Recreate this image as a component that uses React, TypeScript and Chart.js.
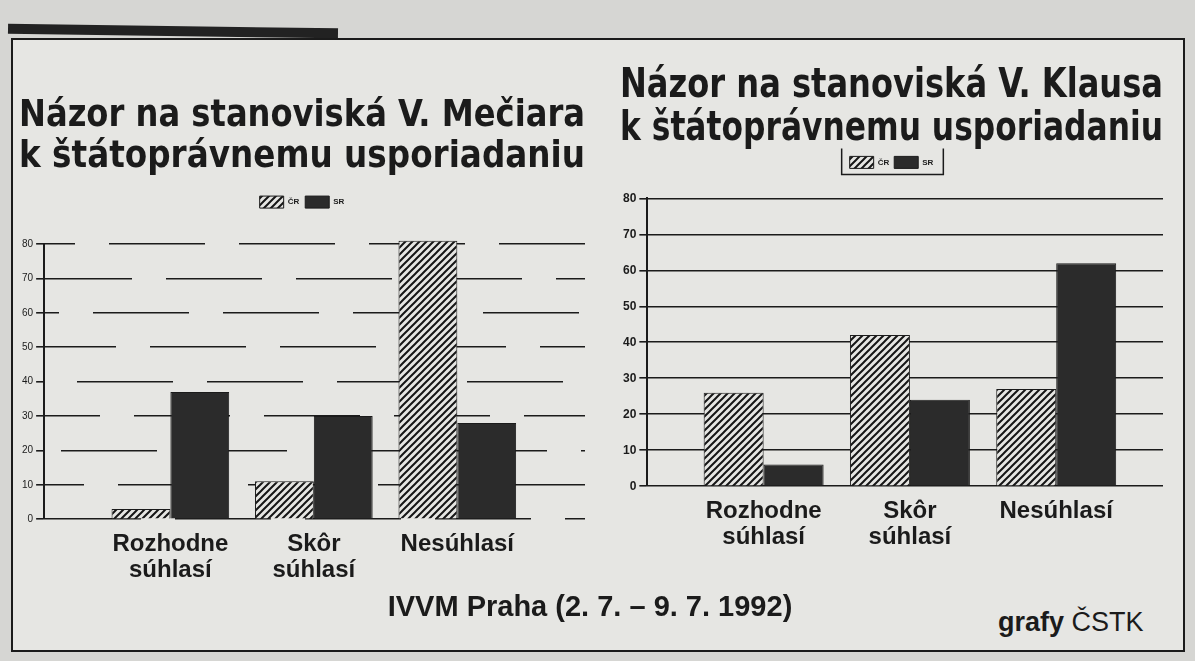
import React, { useEffect, useRef } from "react";
import { Chart, registerables } from "chart.js";

Chart.register(...registerables);

// ---------- data ----------
const categories: string[][] = [["Rozhodne", "súhlasí"], ["Skôr", "súhlasí"], ["Nesúhlasí"]];
const seriesLabels = ["ČR", "SR"];
const meciarCR = [3, 11, 81];
const meciarSR = [37, 30, 28];
const klausCR = [26, 42, 27];
const klausSR = [6, 24, 62];
const yTickValues = [0, 10, 20, 30, 40, 50, 60, 70, 80];
const meciarTitle = ["Názor na stanoviská V. Mečiara", "k štátoprávnemu usporiadaniu"];
const klausTitle = ["Názor na stanoviská V. Klausa", "k štátoprávnemu usporiadaniu"];
const sourceText = "IVVM Praha (2. 7. – 9. 7. 1992)";
const creditBold = "grafy";
const creditText = "ČSTK";

// ---------- style ----------
const INK = "#1b1b1b";
const BAR = "#2b2b2b";
const PAPER = "#e6e6e3";
const PAGE = "#d6d6d3";
const NARROW = "'Liberation Sans Narrow', 'DejaVu Sans Condensed', 'Arial Narrow', sans-serif";
const SANS = "'Liberation Sans', Arial, Helvetica, sans-serif";

function makeHatch(): CanvasPattern | string {
  const s = 7;
  const c = document.createElement("canvas");
  c.width = s;
  c.height = s;
  const g = c.getContext("2d");
  if (!g) return "#888";
  g.fillStyle = PAPER;
  g.fillRect(0, 0, s, s);
  g.strokeStyle = "#161616";
  g.lineWidth = 2;
  g.beginPath();
  g.moveTo(-1, s + 1);
  g.lineTo(s + 1, -1);
  g.moveTo(-1, 1);
  g.lineTo(1, -1);
  g.moveTo(s - 1, s + 1);
  g.lineTo(s + 1, s - 1);
  g.stroke();
  return g.createPattern(c, "repeat") || "#888";
}

interface PanelOpts {
  title: string[];
  titleSize: number;
  cr: number[];
  sr: number[];
  xMin: number;
  xMax: number;
  dashed: boolean;
  titlePad: { top: number; bottom: number };
  legendPad: number;
  legendGap: number;
  layoutPad: { left: number; right: number; top: number; bottom: number };
  legendFrame: boolean;
  yTickFont: { size: number; weight: string };
  xTickPad: number;
}

function buildConfig(o: PanelOpts): any {
  const hatch = makeHatch();
  const legendGapPlugin = {
    id: "legendGap",
    beforeInit(chart: any) {
      const lg = chart.legend;
      if (!lg) return;
      const fit = lg.fit;
      lg.fit = function () {
        fit.call(this);
        this.height += o.legendGap;
      };
    },
  };
  const legendFramePlugin = {
    id: "legendFrame",
    afterDraw(chart: any) {
      if (!o.legendFrame) return;
      const lg = chart.legend;
      if (!lg || !lg.legendHitBoxes || !lg.legendHitBoxes.length) return;
      const boxes = lg.legendHitBoxes;
      const x1 = Math.min(...boxes.map((b: any) => b.left)) - 8;
      const x2 = Math.max(...boxes.map((b: any) => b.left + b.width)) + 10;
      const y1 = boxes[0].top - 8;
      const y2 = boxes[0].top + boxes[0].height + 6;
      const ctx = chart.ctx;
      ctx.save();
      ctx.strokeStyle = INK;
      ctx.lineWidth = 1.5;
      ctx.beginPath();
      ctx.moveTo(x1, y1);
      ctx.lineTo(x1, y2);
      ctx.lineTo(x2, y2);
      ctx.lineTo(x2, y1);
      ctx.stroke();
      ctx.restore();
    },
  };

  return {
    type: "bar",
    data: {
      datasets: [
        {
          label: seriesLabels[0],
          data: o.cr.map((v, i) => ({ x: i, y: v })),
          backgroundColor: hatch,
          borderColor: INK,
          borderWidth: 1,
          clip: false,
        },
        {
          label: seriesLabels[1],
          data: o.sr.map((v, i) => ({ x: i, y: v })),
          backgroundColor: BAR,
          borderColor: INK,
          borderWidth: 1,
          clip: false,
        },
      ],
    },
    options: {
      responsive: false,
      animation: false,
      devicePixelRatio: 1,
      categoryPercentage: 0.82,
      barPercentage: 1,
      layout: { padding: o.layoutPad },
      plugins: {
        tooltip: { enabled: false },
        title: {
          display: true,
          text: o.title,
          color: INK,
          font: { family: NARROW, size: o.titleSize, weight: "bold", lineHeight: 1.08 },
          padding: o.titlePad,
        },
        legend: {
          display: true,
          position: "top",
          labels: {
            color: INK,
            boxWidth: 24,
            boxHeight: 12,
            padding: o.legendPad,
            font: { family: SANS, size: 8, weight: "bold" },
          },
        },
      },
      scales: {
        x: {
          type: "linear",
          min: o.xMin,
          max: o.xMax,
          offset: false,
          grid: { display: false, drawTicks: false },
          border: { display: false },
          afterBuildTicks: (axis: any) => {
            axis.ticks = categories.map((_, i) => ({ value: i }));
          },
          ticks: {
            autoSkip: false,
            maxRotation: 0,
            padding: o.xTickPad,
            color: INK,
            font: { family: SANS, size: 24, weight: "bold", lineHeight: 1.1 },
            callback: (v: any) => categories[Math.round(Number(v))] || "",
          },
        },
        y: {
          min: 0,
          max: 80,
          afterBuildTicks: (axis: any) => {
            axis.ticks = yTickValues.map((v) => ({ value: v }));
          },
          grid: { color: INK, lineWidth: 1.6, drawTicks: true, tickLength: 8 },
          border: {
            display: true,
            color: INK,
            width: 2,
            dash: o.dashed ? [96, 34] : [],
            dashOffset: (ctx: any) => (o.dashed ? ((ctx.index || 0) * 57) % 130 : 0),
          },
          ticks: {
            color: INK,
            padding: 3,
            font: { family: SANS, size: o.yTickFont.size, weight: o.yTickFont.weight },
          },
        },
      },
    },
    plugins: [legendGapPlugin, legendFramePlugin],
  };
}

function Panel(props: { opts: PanelOpts; width: number; height: number; style: React.CSSProperties }) {
  const ref = useRef<HTMLCanvasElement>(null);
  useEffect(() => {
    if (!ref.current) return;
    const chart = new Chart(ref.current, buildConfig(props.opts));
    return () => chart.destroy();
  }, []);
  return <canvas ref={ref} width={props.width} height={props.height} style={{ position: "absolute", ...props.style }} />;
}

const leftOpts: PanelOpts = {
  title: meciarTitle,
  titleSize: 38,
  cr: meciarCR,
  sr: meciarSR,
  xMin: -0.88,
  xMax: 2.89,
  dashed: true,
  titlePad: { top: 26, bottom: 12 },
  legendPad: 6,
  legendGap: 26,
  layoutPad: { left: 9, right: 17, top: 0, bottom: 4 },
  legendFrame: false,
  yTickFont: { size: 10, weight: "normal" },
  xTickPad: 12,
};

const rightOpts: PanelOpts = {
  title: klausTitle,
  titleSize: 40,
  cr: klausCR,
  sr: klausSR,
  xMin: -0.795,
  xMax: 2.73,
  dashed: false,
  titlePad: { top: 25, bottom: 0 },
  legendPad: 5,
  legendGap: 20,
  layoutPad: { left: 22, right: 22, top: 0, bottom: 0 },
  legendFrame: true,
  yTickFont: { size: 12, weight: "bold" },
  xTickPad: 12,
};

export default function App() {
  return (
    <div
      style={{
        position: "fixed",
        left: 0,
        top: 0,
        width: 1195,
        height: 661,
        overflow: "hidden",
        background: PAGE,
      }}
    >
      <div style={{ position: "absolute", left: 8, top: 26, width: 330, height: 10, background: "#222", transform: "rotate(0.8deg)" }} />
      <div
        style={{
          position: "absolute",
          left: 11,
          top: 38,
          width: 1170,
          height: 610,
          border: "2.5px solid #1b1b1b",
          background: PAPER,
        }}
      />
      <Panel opts={leftOpts} width={592} height={530} style={{ left: 10, top: 70 }} />
      <Panel opts={rightOpts} width={587} height={523} style={{ left: 598, top: 40 }} />
      <div
        style={{
          position: "absolute",
          left: 290,
          width: 600,
          top: 590,
          textAlign: "center",
          fontFamily: SANS,
          fontWeight: "bold",
          fontSize: 29,
          color: INK,
          whiteSpace: "nowrap",
        }}
      >
        {sourceText}
      </div>
      <div
        style={{
          position: "absolute",
          left: 998,
          top: 607,
          fontFamily: SANS,
          fontSize: 27,
          color: INK,
          whiteSpace: "nowrap",
        }}
      >
        <span style={{ fontWeight: "bold" }}>{creditBold}</span> {creditText}
      </div>
    </div>
  );
}
